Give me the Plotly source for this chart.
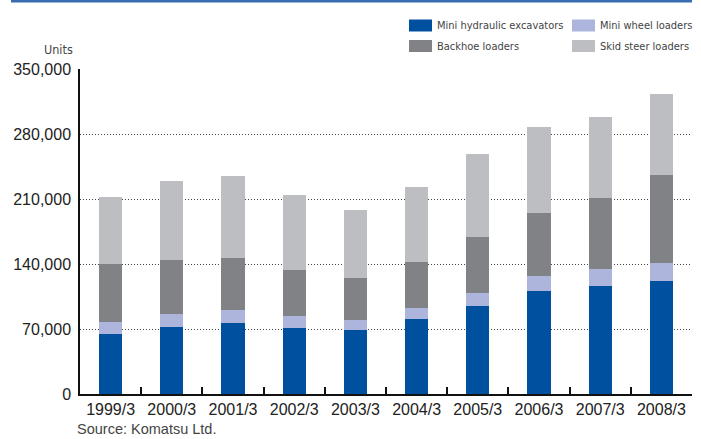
import plotly.graph_objects as go

years = ["1999/3", "2000/3", "2001/3", "2002/3", "2003/3",
         "2004/3", "2005/3", "2006/3", "2007/3", "2008/3"]
mini_excavators = [64600, 72200, 76500, 71100, 68900, 80800, 94800, 110900, 116300, 121700]
mini_wheel = [12900, 14000, 14000, 12900, 10800, 11800, 14000, 16200, 18300, 19400]
backhoe = [62500, 58100, 56000, 49600, 45200, 49600, 60300, 67800, 76500, 94800]
skid_steer = [72000, 85100, 88300, 80700, 73300, 80700, 89400, 92700, 87200, 87200]

series_names = ["Mini hydraulic excavators", "Mini wheel loaders", "Backhoe loaders", "Skid steer loaders"]
series_values = [mini_excavators, mini_wheel, backhoe, skid_steer]
colors = ["#0050a0", "#adb5dc", "#818286", "#bdbec2"]

W, H = 701, 439
L, R, T, B = 80, 9, 69, 45
PW, PH = W - L - R, H - T - B

fig = go.Figure()
for name, vals, c in zip(series_names, series_values, colors):
    fig.add_trace(go.Bar(x=years, y=vals, name=name, marker=dict(color=c, line=dict(width=0)),
                         showlegend=False))

def px(x):
    return (x - L) / PW

def py(y):
    return (H - B - y) / PH

narrow = "DejaVu Sans Condensed, Liberation Sans Narrow, Liberation Sans"

shapes = [
    dict(type="line", xref="paper", yref="paper", x0=px(11), x1=px(692), y0=py(1.2), y1=py(1.2),
         line=dict(color="#3a6db0", width=2.5)),
]
annotations = []
legend_pos = [(409, 25.5), (572, 25.5), (409, 46), (572, 46)]
for (lx, ly), name, c in zip(legend_pos, series_names, colors):
    shapes.append(dict(type="rect", xref="paper", yref="paper",
                       x0=px(lx), x1=px(lx + 23), y0=py(ly - 6), y1=py(ly + 6),
                       fillcolor=c, line=dict(width=0)))
    annotations.append(dict(text=name, xref="paper", yref="paper", x=px(lx + 26), y=py(ly),
                            xanchor="left", yanchor="middle", showarrow=False,
                            font=dict(family=narrow, size=11, color="#444")))

annotations.append(dict(text="Units", xref="paper", yref="paper", x=px(75), y=py(49),
                        xanchor="right", yanchor="middle", showarrow=False,
                        font=dict(family=narrow, size=12.5, color="#444")))
annotations.append(dict(text="Source: Komatsu Ltd.", xref="paper", yref="paper", x=px(75), y=py(429),
                        xanchor="left", yanchor="middle", showarrow=False,
                        font=dict(family="Liberation Sans, Arial", size=14.5, color="#444")))

fig.update_layout(
    width=W, height=H,
    margin=dict(l=L, r=R, t=T, b=B, pad=0, autoexpand=False),
    barmode="stack", bargap=0.62,
    plot_bgcolor="white", paper_bgcolor="white",
    shapes=shapes, annotations=annotations,
    font=dict(family="Liberation Sans, Arial", color="#222"),
    xaxis=dict(type="category", showline=True, linecolor="#111", linewidth=1.5,
               ticks="inside", tickson="boundaries", ticklen=7, tickcolor="#111", tickwidth=1.5,
               showgrid=False, tickfont=dict(size=16, color="#222"), fixedrange=True,
               automargin=False),
    yaxis=dict(range=[0, 350000], tickvals=[0, 70000, 140000, 210000, 280000, 350000],
               tickformat=",", showline=True, linecolor="#111", linewidth=1.5,
               showgrid=True, gridcolor="#444", gridwidth=1, griddash="1px,2px",
               zeroline=False, ticks="", ticklabelstandoff=4,
               tickfont=dict(size=16, color="#222"), fixedrange=True, automargin=False),
)

fig.write_html("out.html", config={"displayModeBar": False},
               post_script="document.body.style.margin='0';document.body.style.padding='0';document.body.style.overflow='hidden';")
